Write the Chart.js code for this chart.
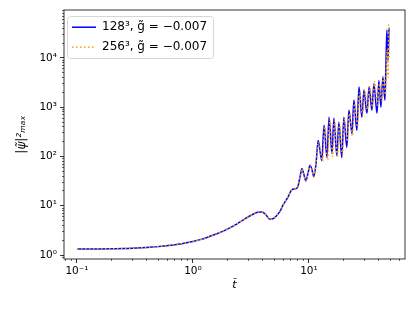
<!DOCTYPE html>
<html>
<head>
<meta charset="utf-8">
<script src="https://cdn.jsdelivr.net/npm/chart.js@4.4.0/dist/chart.umd.min.js"></script>
<style>
  html, body { margin: 0; padding: 0; background: #fff; }
  #wrap { width: 415px; height: 312px; }
</style>
</head>
<body>
<div id="wrap"><canvas id="chart" width="415" height="312"></canvas></div>
<script>
// run 128^3 (blue, solid)
const tBlue = [0.1, 0.13, 0.16, 0.2, 0.25, 0.3, 0.36, 0.43, 0.5, 0.6, 0.7, 0.8, 0.9, 1.0, 1.2, 1.4, 1.7, 2.0, 2.4, 2.8,
  3.2, 3.6, 3.9, 4.2, 4.6, 5.0, 5.6, 6.0, 6.6, 7.1, 7.6, 8.0, 8.4, 8.7, 9.0, 9.4, 9.8, 10.2, 10.6, 11.0,
  11.5, 12.0, 12.4, 12.9, 13.5, 14.3, 14.9, 15.8, 16.4, 17.4, 18.1, 19.2, 20.0, 21.2, 22.1, 23.5, 24.4, 25.9,
  27.0, 28.6, 29.8, 31.6, 33.0, 34.9, 36.3, 38.6, 40.1, 41.7, 43.4, 45.2, 46.2, 47.0, 48.0, 49.0];
const yBlue = [1.32, 1.32, 1.33, 1.34, 1.35, 1.37, 1.40, 1.44, 1.48, 1.55, 1.62, 1.70, 1.79, 1.88, 2.1, 2.4, 2.85, 3.4, 4.3, 5.4,
  6.5, 7.4, 7.5, 6.8, 5.3, 5.6, 7.6, 10.5, 15, 21, 22, 24, 40, 57, 45, 32, 45, 66, 55, 39,
  70, 212, 140, 83, 429, 95, 625, 115, 597, 105, 494, 95, 625, 153, 869, 294, 1390, 339,
  2561, 625, 2223, 755, 2561, 869, 3000, 755, 3500, 1000, 4100, 1390, 9000, 37000, 9100, 41000];

// run 256^3 (orange, dotted)
const tOrange = [0.1, 0.13, 0.16, 0.2, 0.25, 0.3, 0.36, 0.43, 0.5, 0.6, 0.7, 0.8, 0.9, 1.0, 1.2, 1.4, 1.7, 2.0, 2.4, 2.8,
  3.2, 3.6, 3.9, 4.2, 4.6, 5.0, 5.6, 6.0, 6.6, 7.1, 7.6, 8.0, 8.4, 8.7, 9.0, 9.4, 9.8, 10.2, 10.6, 11.0,
  11.5, 12.1, 12.6, 13.1, 13.7, 14.5, 15.1, 16.0, 16.6, 17.6, 18.3, 19.4, 20.2, 21.4, 22.3, 23.7, 24.7, 26.2,
  27.3, 28.9, 30.1, 31.9, 33.4, 35.3, 36.8, 38.9, 40.6, 42.2, 43.9, 45.5, 46.5, 47.3, 48.2, 48.6, 49.0];
const yOrange = [1.32, 1.32, 1.33, 1.34, 1.35, 1.37, 1.40, 1.44, 1.48, 1.55, 1.62, 1.70, 1.79, 1.88, 2.1, 2.4, 2.85, 3.4, 4.3, 5.4,
  6.5, 7.4, 7.5, 6.8, 5.3, 5.6, 7.6, 10.5, 15, 21, 22, 24, 40, 57, 45, 32, 45, 66, 55, 39,
  75, 200, 120, 80, 400, 85, 560, 100, 540, 95, 470, 110, 580, 200, 750, 260, 1200, 400,
  2000, 700, 2300, 900, 2700, 1000, 3300, 1100, 3000, 1300, 4500, 1800, 6000, 15000, 4000, 47000, 10000];

const xMajor = [0.1, 1, 10];
const xLabels = ['10\u207B\u00B9', '10\u2070', '10\u00B9'];
const xMinor = [0.08, 0.09, 0.2, 0.3, 0.4, 0.5, 0.6, 0.7, 0.8, 0.9, 2, 3, 4, 5, 6, 7, 8, 9, 20, 30, 40, 50, 60];
const yMajor = [1, 10, 100, 1000, 10000];
const yLabels = ['10\u2070', '10\u00B9', '10\u00B2', '10\u00B3', '10\u2074'];
const yMinor = [0.8, 0.9, 2, 3, 4, 5, 6, 7, 8, 9, 20, 30, 40, 50, 60, 70, 80, 90,
  200, 300, 400, 500, 600, 700, 800, 900, 2000, 3000, 4000, 5000, 6000, 7000, 8000, 9000,
  20000, 30000, 40000, 50000, 60000, 70000, 80000, 90000];

const X_MIN = 0.0773, X_MAX = 67.3;
const Y_MIN = 0.83, Y_MAX = 94000;

const FONT = 'DejaVu Sans';

function pts(ts, ys) {
  return ts.map((t, i) => ({ x: t, y: ys[i] }));
}

function setTicks(list, min, max) {
  return (scale) => {
    scale.ticks = list.filter((v) => v >= min && v <= max).map((v) => ({ value: v }));
  };
}

// legend samples use the dataset's line style, not the point style
function legendLabels(chart) {
  const items = Chart.defaults.plugins.legend.labels.generateLabels(chart);
  items.forEach((it) => {
    const ds = chart.data.datasets[it.datasetIndex];
    it.lineDash = ds.borderDash || [];
    it.lineWidth = ds.borderWidth;
    it.strokeStyle = ds.borderColor;
  });
  return items;
}

// box around the plot and frame behind the legend
const framePlugin = {
  id: 'frame',
  beforeDraw(chart) {
    const lg = chart.legend;
    if (!lg || !lg.legendHitBoxes || !lg.legendHitBoxes.length) return;
    const hb = lg.legendHitBoxes;
    const l = Math.min(...hb.map((h) => h.left)) - 5;
    const t = Math.min(...hb.map((h) => h.top)) - 5;
    const r = Math.max(...hb.map((h) => h.left + h.width)) + 6;
    const b = Math.max(...hb.map((h) => h.top + h.height)) + 5;
    const ctx = chart.ctx;
    ctx.save();
    ctx.beginPath();
    ctx.roundRect(Math.round(l) + 0.5, Math.round(t) + 0.5, Math.round(r - l), Math.round(b - t), 3);
    ctx.fillStyle = 'rgba(255,255,255,0.8)';
    ctx.fill();
    ctx.strokeStyle = '#d6d6d6';
    ctx.lineWidth = 1;
    ctx.stroke();
    ctx.restore();
  },
  afterDatasetsDraw(chart) {
    const a = chart.chartArea;
    const ctx = chart.ctx;
    ctx.save();
    ctx.strokeStyle = '#000';
    ctx.lineWidth = 0.8;
    ctx.strokeRect(a.left, a.top, a.right - a.left, a.bottom - a.top);
    ctx.restore();
  }
};

const tickFont = { family: FONT, size: 10.5 };

new Chart(document.getElementById('chart'), {
  type: 'line',
  data: {
    datasets: [
      {
        label: '128\u00B3, g\u0303 = \u22120.007',
        data: pts(tBlue, yBlue),
        borderColor: '#0000ff',
        backgroundColor: '#0000ff',
        borderWidth: 1.5,
        pointRadius: 0,
        pointStyle: 'line',
        cubicInterpolationMode: 'monotone',
        order: 1
      },
      {
        label: '256\u00B3, g\u0303 = \u22120.007',
        data: pts(tOrange, yOrange),
        borderColor: '#ffa500',
        backgroundColor: '#ffa500',
        borderWidth: 1.5,
        borderDash: [1.5, 2.5],
        pointRadius: 0,
        pointStyle: 'line',
        cubicInterpolationMode: 'monotone',
        order: 0
      }
    ]
  },
  options: {
    responsive: false,
    animation: false,
    devicePixelRatio: 1,
    layout: { padding: { left: 0, right: 10, top: 10, bottom: 0 } },
    plugins: {
      tooltip: { enabled: false },
      legend: {
        position: 'chartArea',
        align: 'start',
        title: { display: true, text: ' ', font: { size: 1 }, padding: { top: 0, bottom: 12 } },
        labels: {
          usePointStyle: true,
          pointStyleWidth: 24,
          boxWidth: 24,
          padding: 8,
          color: '#000',
          font: { family: FONT, size: 12 },
          generateLabels: legendLabels,
          sort: (a, b) => a.datasetIndex - b.datasetIndex
        }
      }
    },
    scales: {
      x: {
        type: 'logarithmic',
        position: 'bottom',
        weight: 1,
        min: X_MIN,
        max: X_MAX,
        afterFit: (s) => { s.height = 53; },
        afterBuildTicks: setTicks(xMajor, X_MIN, X_MAX),
        ticks: {
          autoSkip: false,
          maxRotation: 0,
          padding: 2,
          color: '#000',
          font: tickFont,
          callback: (v) => xLabels[xMajor.indexOf(v)] || ''
        },
        grid: { drawOnChartArea: false, tickLength: 4, color: '#000', tickWidth: 0.8 },
        border: { display: false },
        title: {
          display: true,
          text: 't\u0303',
          color: '#000',
          font: { family: FONT, size: 11, style: 'italic' },
          padding: { top: 0, bottom: 20 }
        }
      },
      xm: {
        type: 'logarithmic',
        position: 'bottom',
        weight: 0,
        min: X_MIN,
        max: X_MAX,
        afterFit: (s) => { s.height = 0; },
        afterBuildTicks: setTicks(xMinor, X_MIN, X_MAX),
        ticks: { display: false, autoSkip: false },
        grid: { drawOnChartArea: false, tickLength: 2, color: '#000', tickWidth: 0.6 },
        border: { display: false }
      },
      y: {
        type: 'logarithmic',
        position: 'left',
        weight: 1,
        min: Y_MIN,
        max: Y_MAX,
        afterFit: (s) => { s.width = 64; },
        afterBuildTicks: setTicks(yMajor, Y_MIN, Y_MAX),
        ticks: {
          autoSkip: false,
          padding: 3,
          color: '#000',
          font: tickFont,
          callback: (v) => yLabels[yMajor.indexOf(v)] || ''
        },
        grid: { drawOnChartArea: false, tickLength: 4, color: '#000', tickWidth: 0.8 },
        border: { display: false },
        title: {
          display: true,
          text: '|\u03C8\u0303|\u00B2\u2098\u2090\u2093',
          color: '#000',
          font: { family: FONT, size: 12, style: 'italic' },
          padding: { top: 15, bottom: 0 }
        }
      },
      ym: {
        type: 'logarithmic',
        position: 'left',
        weight: 0,
        min: Y_MIN,
        max: Y_MAX,
        afterFit: (s) => { s.width = 0; },
        afterBuildTicks: setTicks(yMinor, Y_MIN, Y_MAX),
        ticks: { display: false, autoSkip: false },
        grid: { drawOnChartArea: false, tickLength: 2, color: '#000', tickWidth: 0.6 },
        border: { display: false }
      }
    }
  },
  plugins: [framePlugin]
});
</script>
</body>
</html>
